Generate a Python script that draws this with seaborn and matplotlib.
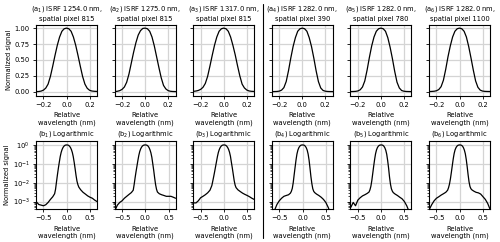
import numpy as np
import pandas as pd
import seaborn as sns
import matplotlib.pyplot as plt
from matplotlib.lines import Line2D

# relative wavelength grid (nm)
wl = [-0.65, -0.60, -0.55, -0.50, -0.45, -0.40, -0.35, -0.30, -0.26, -0.24, -0.22,
      -0.20, -0.18, -0.16, -0.14, -0.12, -0.10, -0.08, -0.06, -0.04, -0.02, 0.0,
      0.02, 0.04, 0.06, 0.08, 0.10, 0.12, 0.14, 0.16, 0.18, 0.20, 0.22, 0.24, 0.26,
      0.30, 0.35, 0.40, 0.45, 0.50, 0.55, 0.60, 0.65]

# normalized ISRF, one list per panel
isrf_1 = [9.5e-4, 7.0e-4, 6.5e-4, 6.0e-4, 6.8e-4, 9.0e-4, 1.3e-3, 1.8e-3, 2.6e-3, 4.5e-3, 0.011,
          0.026, 0.058, 0.12, 0.24, 0.40, 0.57, 0.73, 0.86, 0.95, 0.99, 1.0,
          0.99, 0.95, 0.86, 0.73, 0.57, 0.40, 0.24, 0.12, 0.055, 0.024, 0.012, 0.0078, 0.0058,
          0.0042, 0.0031, 0.0025, 0.0020, 0.0017, 0.0015, 0.0012, 0.0010]
isrf_2 = [3.5e-4, 6.5e-4, 9.0e-4, 1.1e-3, 1.5e-3, 1.9e-3, 2.4e-3, 3.0e-3, 4.0e-3, 8.0e-3, 0.018,
          0.038, 0.075, 0.15, 0.28, 0.45, 0.62, 0.77, 0.89, 0.96, 0.995, 1.0,
          0.99, 0.95, 0.86, 0.72, 0.55, 0.38, 0.22, 0.10, 0.045, 0.018, 0.008, 0.0045, 0.0032,
          0.0026, 0.0023, 0.0021, 0.0019, 0.0019, 0.0019, 0.0017, 0.0015]
isrf_3 = [8.5e-4, 8.5e-4, 1.1e-3, 1.6e-3, 1.9e-3, 2.3e-3, 2.9e-3, 4.0e-3, 7.0e-3, 0.012, 0.021,
          0.038, 0.070, 0.13, 0.24, 0.40, 0.57, 0.73, 0.86, 0.95, 0.99, 1.0,
          0.99, 0.95, 0.86, 0.73, 0.58, 0.41, 0.25, 0.12, 0.06, 0.028, 0.013, 0.0075, 0.0055,
          0.0042, 0.0034, 0.0028, 0.0024, 0.0021, 0.0018, 0.0015, 0.0013]
isrf_4 = [2.0e-4, 3.5e-4, 7.0e-4, 1.1e-3, 1.5e-3, 1.9e-3, 2.1e-3, 2.3e-3, 2.8e-3, 3.5e-3, 5.0e-3,
          0.010, 0.026, 0.065, 0.16, 0.33, 0.53, 0.71, 0.85, 0.95, 0.99, 1.0,
          0.99, 0.95, 0.85, 0.71, 0.53, 0.33, 0.16, 0.06, 0.021, 0.009, 0.0048, 0.0035, 0.0030,
          0.0025, 0.0021, 0.0017, 0.0013, 0.0009, 5.0e-4, 2.5e-4, 1.5e-4]
isrf_5 = [5.0e-4, 9.0e-4, 6.0e-4, 1.2e-3, 1.6e-3, 2.0e-3, 2.3e-3, 2.7e-3, 3.2e-3, 4.2e-3, 6.5e-3,
          0.013, 0.031, 0.075, 0.17, 0.34, 0.54, 0.72, 0.86, 0.95, 0.99, 1.0,
          0.99, 0.95, 0.85, 0.70, 0.52, 0.32, 0.15, 0.06, 0.02, 0.0085, 0.0048, 0.0036, 0.0030,
          0.0025, 0.0021, 0.0017, 0.0014, 0.0010, 6.0e-4, 3.0e-4, 2.0e-4]
isrf_6 = [4.0e-4, 7.0e-4, 1.1e-3, 1.5e-3, 1.8e-3, 2.2e-3, 2.6e-3, 3.1e-3, 4.0e-3, 5.5e-3, 8.5e-3,
          0.016, 0.035, 0.08, 0.18, 0.35, 0.55, 0.72, 0.86, 0.95, 0.99, 1.0,
          0.99, 0.95, 0.86, 0.71, 0.53, 0.34, 0.17, 0.07, 0.026, 0.011, 0.0063, 0.0048, 0.0042,
          0.0036, 0.0031, 0.0029, 0.0025, 0.0018, 0.0013, 0.0008, 4.0e-4]

bands = [1254.0, 1275.0, 1317.0, 1282.0, 1282.0, 1282.0]
pixels = [815, 815, 815, 390, 780, 1100]
profiles = [isrf_1, isrf_2, isrf_3, isrf_4, isrf_5, isrf_6]

sns.set_theme(style="ticks", rc={
    "axes.grid": True, "grid.color": "#d4d4d4", "grid.linewidth": 0.9,
    "axes.edgecolor": "black", "axes.linewidth": 0.8,
    "text.color": "black", "axes.labelcolor": "black",
    "xtick.color": "black", "ytick.color": "black",
    "xtick.major.size": 2.5, "ytick.major.size": 2.5,
    "xtick.minor.size": 1.5, "ytick.minor.size": 1.5,
    "xtick.major.width": 0.6, "ytick.major.width": 0.6,
    "ytick.minor.width": 0.5,
    "xtick.major.pad": 2, "ytick.major.pad": 2,
})
plt.rcParams['font.family'] = ['DejaVu Sans']
fs = 4.9

fig, axes = plt.subplots(2, 6, figsize=(5.0, 2.42), dpi=100, sharey='row')

# axes placement (figure fractions)
lefts = [0.072 + i * 0.1572 for i in range(6)]
width = 0.122
for i in range(6):
    axes[0, i].set_position([lefts[i], 0.605, width, 0.292])
    axes[1, i].set_position([lefts[i], 0.136, width, 0.281])

for i in range(6):
    df = pd.DataFrame({'wl': wl, 'signal': profiles[i]})
    ax = axes[0, i]
    sns.lineplot(data=df, x='wl', y='signal', ax=ax, color='black', lw=0.9)
    ax.set_xlim(-0.265, 0.265)
    ax.set_ylim(-0.06, 1.05)
    ax.set_xticks([-0.2, 0.0, 0.2])
    ax.set_yticks([0.0, 0.25, 0.5, 0.75, 1.0])
    ax.set_title(f"(a$_{i+1}$) ISRF {bands[i]:.1f} nm,\nspatial pixel {pixels[i]}",
                 fontsize=fs, pad=3, linespacing=1.4)

    ax = axes[1, i]
    sns.lineplot(data=df, x='wl', y='signal', ax=ax, color='black', lw=0.9)
    ax.set_yscale('log')
    ax.set_xlim(-0.66, 0.65)
    ax.set_ylim(4e-4, 1.6)
    ax.set_xticks([-0.5, 0.0, 0.5])
    ax.set_yticks([1e-3, 1e-2, 1e-1, 1])
    ax.grid(False, which='minor')
    ax.set_title(f"(b$_{i+1}$) Logarithmic", fontsize=fs, pad=4)

    for a in axes[:, i]:
        a.set_xlabel("Relative\nwavelength (nm)", fontsize=fs, labelpad=3)
        a.tick_params(labelsize=fs)
        if i == 0:
            a.set_ylabel("Normalized signal", fontsize=fs, labelpad=2)
        else:
            a.set_ylabel("")
            a.tick_params(labelleft=False)

fig.add_artist(Line2D([0.526, 0.526], [0.015, 0.985], color='black', lw=0.8))

fig.savefig("out.png", dpi=100)
